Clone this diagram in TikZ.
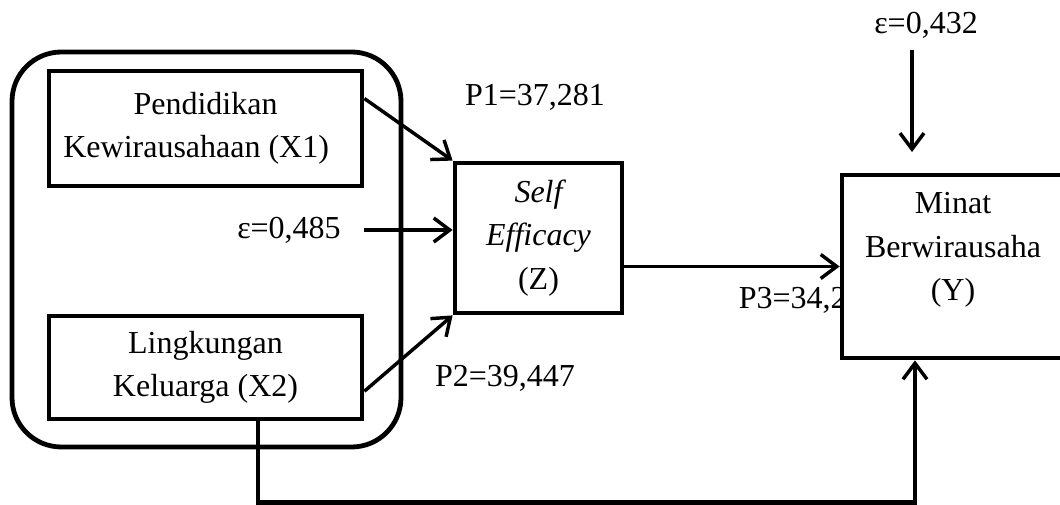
\documentclass[tikz,border=0pt]{standalone}
\usepackage{fontspec}
\setmainfont{Liberation Serif}
\usetikzlibrary{arrows.meta,calc}

\begin{document}
\begin{tikzpicture}[x=0.75pt,y=-0.75pt,
  every node/.style={font=\fontsize{24}{32.5}\selectfont, inner sep=0pt},
  box/.style={draw, line width=3.6pt, rectangle, align=center, fill=white},
  conn/.style={line width=2.6pt, -{Straight Barb[length=12pt,width=18pt,line width=2.6pt]}},
  wire/.style={line width=3.4pt},
  lbl/.style={align=center}]
\useasboundingbox (0,0) rectangle (1060,505);
\clip (0,0) rectangle (1060,505);

% grouping frame around the two independent variables
\draw[line width=3.6pt, rounded corners=37pt] (12,52) rectangle (401,447);

% variable boxes
\node[box, minimum width=234.75pt, minimum height=86.25pt] (X1) at (205.5,128.5)
  {Pendidikan\\Kewirausahaan (X1)\hspace*{14pt}};
\node[box, minimum width=234.75pt, minimum height=77.25pt] (X2) at (205.5,367.5)
  {Lingkungan\\Keluarga (X2)};
\node[box, minimum width=125.25pt, minimum height=112.5pt] (Z) at (538.5,238)
  {\itshape Self\\\itshape Efficacy\\(Z)};

% path coefficients and residuals
\node[lbl] (P1) at (535,97) {P1=37,281};
\node[lbl] (P2) at (505,378) {P2=39,447};
\node[lbl, anchor=base east] (P3) at (847,309) {P3=34,2};
\node[lbl] (e1) at (289,230) {ε=0,485};
\node[lbl] (e2) at (926,25) {ε=0,432};

\node[box, minimum width=166.5pt, minimum height=137.25pt] (Y) at (953,266.5) {};
\node[lbl] (Ytxt) at (953,250) {Minat\\Berwirausaha\\(Y)};

% connectors
\draw[conn] ($(X1.north east)!0.25!(X1.south east)$) -- (Z.north west);
\draw[conn] ($(X2.north east)!0.72!(X2.south east)$) -- (Z.south west);
\draw[conn] (X1.east |- e1) -- (Z.west |- e1);
\draw[conn] (Z.east |- Y.west) -- (Y.west);

\coordinate (e2top) at (912,50);
\coordinate (e2tip) at (912,152);
\draw[conn] (e2top) -- (e2tip);

\coordinate (down) at ($(X2.south)+(52.5,81)$);
\draw[wire] ($(X2.south)+(52.5,0)$) -- (down) -| ($(Y.south)+(-38,20)$);
\draw[conn] ($(Y.south)+(-38,142)$) -- ($(Y.south)+(-38,0)$);
\end{tikzpicture}
\end{document}
